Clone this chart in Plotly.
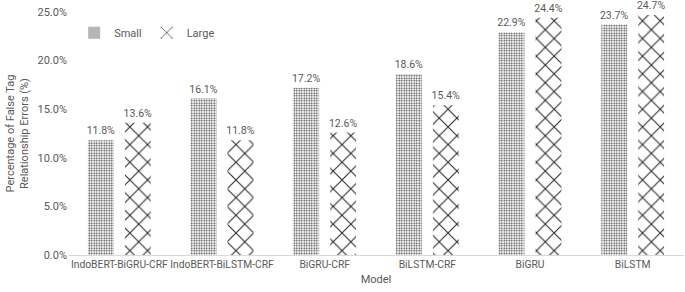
import plotly.graph_objects as go

models = ["IndoBERT-BiGRU-CRF", "IndoBERT-BiLSTM-CRF", "BiGRU-CRF", "BiLSTM-CRF", "BiGRU", "BiLSTM"]
small = [11.8, 16.1, 17.2, 18.6, 22.9, 23.7]
large = [13.6, 11.8, 12.6, 15.4, 24.4, 24.7]
yticks = [0, 5, 10, 15, 20, 25]

FONT = "Roboto, sans-serif"
GRAY = "#595959"

fig = go.Figure()
fig.add_trace(go.Bar(
    name="Small", x=models, y=small,
    marker=dict(color="white", line=dict(width=0),
                pattern=dict(shape=".", fgcolor="#333333", bgcolor="white",
                             size=2.5, solidity=0.35, fillmode="replace")),
    texttemplate="%{y:.1f}%", textposition="outside", cliponaxis=False,
    constraintext="none",
    textfont=dict(color=GRAY, size=10.5, family=FONT),
))
fig.add_trace(go.Bar(
    name="Large", x=models, y=large,
    marker=dict(color="white", line=dict(width=0),
                pattern=dict(shape="x", fgcolor="#2a2a2a", bgcolor="white",
                             size=12.5, solidity=0.16, fillmode="replace")),
    texttemplate="%{y:.1f}%", textposition="outside", cliponaxis=False,
    constraintext="none",
    textfont=dict(color=GRAY, size=10.5, family=FONT),
))

fig.update_layout(
    width=685, height=292,
    margin=dict(l=68, r=1, t=12, b=37),
    paper_bgcolor="white", plot_bgcolor="white",
    barmode="group", bargap=0.28, bargroupgap=0.30,
    font=dict(family=FONT, size=11, color=GRAY),
    showlegend=True,
    legend=dict(orientation="h", x=0.01, y=0.915, xanchor="left", yanchor="middle",
                font=dict(size=11, color=GRAY), itemwidth=30,
                bgcolor="rgba(0,0,0,0)", traceorder="normal"),
)
fig.update_xaxes(
    showline=True, linecolor="#d9d9d9", linewidth=1, showgrid=False,
    ticks="", tickangle=0, tickfont=dict(size=10.3, color=GRAY), automargin=False,
    title=dict(text="Model", font=dict(size=11, color=GRAY), standoff=4),
)
fig.update_yaxes(
    range=[0, 25], tickvals=yticks, ticktext=[f"{v:.1f}%" for v in yticks],
    showgrid=False, zeroline=False, showline=False, ticks="", automargin=False,
    tickfont=dict(size=11, color=GRAY),
    title=dict(text="Percentage of False Tag<br>Relationship Errors (%)",
               font=dict(size=11, color=GRAY), standoff=6),
)

# remove the browser's default body margin so the figure fills the window
fig.write_html("out.html", config={"displayModeBar": False},
               post_script="document.body.style.margin='0';")
